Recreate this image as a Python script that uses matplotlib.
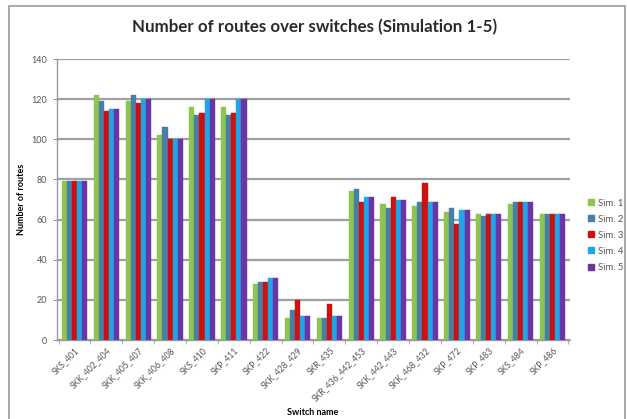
import matplotlib
matplotlib.use("Agg")
import matplotlib.pyplot as plt
import numpy as np
from matplotlib.patches import Rectangle
from matplotlib.lines import Line2D

switches = ["SKS_401", "SKK_402_404", "SKK_405_407", "SKK_406_408", "SKS_410",
            "SKP_411", "SKP_422", "SKK_428_429", "SKR_435", "SKR_436_442_453",
            "SKK_442_443", "SKK_468_432", "SKP_472", "SKP_483", "SKS_484", "SKP_486"]
sim1 = [79, 122, 119, 102, 116, 116, 28, 11, 11, 74, 68, 67, 64, 63, 68, 63]
sim2 = [79, 119, 122, 106, 112, 112, 29, 15, 11, 75, 66, 69, 66, 62, 69, 63]
sim3 = [79, 114, 118, 100, 113, 113, 29, 20, 18, 69, 71, 78, 58, 63, 69, 63]
sim4 = [79, 115, 120, 100, 120, 120, 31, 12, 12, 71, 70, 69, 65, 63, 69, 63]
sim5 = [79, 115, 120, 100, 120, 120, 31, 12, 12, 71, 70, 69, 65, 63, 69, 63]
series_names = ["Sim. 1", "Sim. 2", "Sim. 3", "Sim. 4", "Sim. 5"]
series = [sim1, sim2, sim3, sim4, sim5]
colors = ["#8CC650", "#4A7EA8", "#CC1111", "#1EA6E6", "#6B35A6"]
y_ticks = [0, 20, 40, 60, 80, 100, 120, 140]

plt.rcParams["font.family"] = ["Lato", "DejaVu Sans"]

fig = plt.figure(figsize=(6.27, 4.19), dpi=100)
fig.patches.append(Rectangle((9 / 627, -0.01), 616 / 627, 1 - 6 / 419 + 0.01,
                             transform=fig.transFigure, fill=False,
                             edgecolor="#9a9a9a", linewidth=1.2))

ax = fig.add_axes([57 / 627, 1 - 340 / 419, 513 / 627, 281 / 419])
x = np.arange(len(switches))
w = 0.16
for i, (vals, c) in enumerate(zip(series, colors)):
    ax.bar(x + (i - 2) * w, vals, width=w, color=c, edgecolor=c, linewidth=0.3,
           zorder=3)

ax.set_xlim(-0.55, len(switches) - 0.45)
ax.set_ylim(0, 140)
ax.set_yticks(y_ticks)
ax.set_yticklabels([str(v) for v in y_ticks], fontsize=6.5, color="#555555")
ax.yaxis.grid(True, color="#a0a0a0", linewidth=1.6, zorder=0)
ax.set_xticks(x)
ax.set_xticklabels(switches, rotation=45, ha="right", rotation_mode="anchor",
                   fontsize=6.2, color="#555555")
ax.set_xticks(np.arange(len(switches) + 1) - 0.5, minor=True)
ax.tick_params(axis="x", which="major", length=0, pad=4)
ax.tick_params(axis="x", which="minor", length=3, color="#9a9a9a")
ax.tick_params(axis="y", length=3, color="#9a9a9a", pad=4)
for s in ["top", "right"]:
    ax.spines[s].set_visible(False)
for s in ["left", "bottom"]:
    ax.spines[s].set_color("#9a9a9a")
    ax.spines[s].set_linewidth(1.0)

ax.set_ylabel("Number of routes", fontsize=6.5, fontweight="bold", labelpad=4)
fig.text(313 / 627, 1 - 412 / 419, "Switch name", fontsize=6.5,
         fontweight="bold", ha="center", va="center")
fig.text(315 / 627, 1 - 27 / 419, "Number of routes over switches (Simulation 1-5)",
         fontsize=12.2, fontweight="bold", ha="center", va="center", color="#2a2a2a")

handles = [Line2D([], [], marker="s", linestyle="none", markersize=4.5,
                  markerfacecolor=c, markeredgecolor=c) for c in colors]
fig.legend(handles, series_names, loc="upper left",
           bbox_to_anchor=(578 / 627, 1 - 190 / 419), frameon=False,
           fontsize=6.8, handletextpad=0.2, labelspacing=0.75,
           handlelength=1.0, labelcolor="#555555")

fig.savefig("out.png", dpi=100)
